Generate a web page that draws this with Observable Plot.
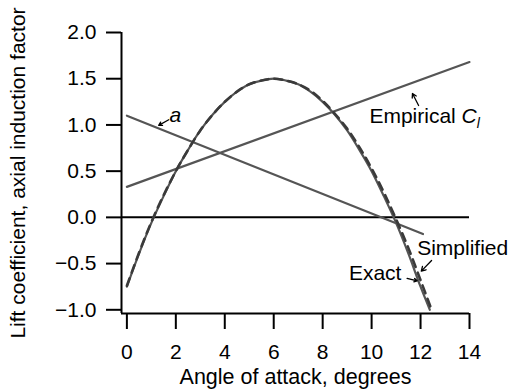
<!DOCTYPE html>
<html>
<head>
<meta charset="utf-8">
<script src="https://cdn.jsdelivr.net/npm/d3@7"></script>
<script src="https://cdn.jsdelivr.net/npm/@observablehq/plot@0.6"></script>
<style>
  html, body { margin: 0; padding: 0; background: #fff; }
</style>
</head>
<body>
<div id="chart"></div>
<script>
// Angle of attack (degrees) and lift coefficient
const alphaExact = [0, 0.5, 1, 1.5, 2, 2.5, 3, 3.5, 4, 4.5, 5, 5.5, 6, 6.5, 7, 7.5, 8, 8.5, 9, 9.5, 10, 10.5, 11, 11.5, 12, 12.38];
const clExact    = [-0.75, -0.39, -0.06, 0.23, 0.50, 0.73, 0.94, 1.11, 1.25, 1.36, 1.44, 1.48, 1.50, 1.48, 1.44, 1.36, 1.25, 1.11, 0.94, 0.73, 0.50, 0.23, -0.06, -0.39, -0.75, -1.00];
const alphaSimplified = [0, 0.5, 1, 1.5, 2, 2.5, 3, 3.5, 4, 4.5, 5, 5.5, 6, 6.5, 7, 7.5, 8, 8.5, 9, 9.5, 10, 10.5, 11, 11.5, 12, 12.45];
const clSimplified    = [-0.74, -0.38, -0.05, 0.24, 0.50, 0.73, 0.94, 1.11, 1.25, 1.36, 1.44, 1.48, 1.50, 1.48, 1.44, 1.37, 1.26, 1.12, 0.96, 0.76, 0.53, 0.27, -0.02, -0.33, -0.68, -1.00];
// Empirical lift coefficient line
const alphaEmpirical = [0, 14];
const clEmpirical    = [0.33, 1.68];
// Axial induction factor a
const alphaA = [0, 12.1];
const valueA = [1.10, -0.18];
// Tick labels
const xTicks = [0, 2, 4, 6, 8, 10, 12, 14];
const yTicks = [-1.0, -0.5, 0.0, 0.5, 1.0, 1.5, 2.0];

const exact = alphaExact.map((x, i) => ({x, y: clExact[i]}));
const simplified = alphaSimplified.map((x, i) => ({x, y: clSimplified[i]}));
const empirical = alphaEmpirical.map((x, i) => ({x, y: clEmpirical[i]}));
const induction = alphaA.map((x, i) => ({x, y: valueA[i]}));

const curveColor = "#555";
const fontFamily = "'Liberation Sans', Arial, Helvetica, sans-serif";

const arrows = [
  {x1: 1.71, y1: 1.056, x2: 1.30, y2: 0.995},
  {x1: 11.92, y1: 1.21, x2: 11.67, y2: 1.34},
  {x1: 12.45, y1: -0.466, x2: 12.03, y2: -0.582},
  {x1: 11.45, y1: -0.66, x2: 11.86, y2: -0.686}
];

const plot = Plot.plot({
  width: 508,
  height: 391,
  marginLeft: 121,
  marginRight: 39,
  marginTop: 32,
  marginBottom: 78,
  style: {fontSize: "21px", fontFamily, background: "#fff", color: "#000"},
  x: {domain: [-0.22, 14]},
  y: {domain: [-1.04, 2.0]},
  marks: [
    Plot.axisX({ticks: xTicks, tickSize: 16, tickPadding: 15, strokeWidth: 2, label: null, tickFormat: d3.format("d")}),
    Plot.axisY({ticks: yTicks, tickSize: 15, tickPadding: 10, strokeWidth: 2, label: null, tickFormat: d3.format(".1f")}),
    Plot.ruleX([-0.22], {y1: -1.04, y2: 2.0, stroke: "#000", strokeWidth: 2}),
    Plot.ruleY([-1.04], {x1: -0.22, x2: 14, stroke: "#000", strokeWidth: 2}),
    Plot.ruleY([0], {x1: -0.22, x2: 14, stroke: "#000", strokeWidth: 2}),
    Plot.line(empirical, {x: "x", y: "y", stroke: curveColor, strokeWidth: 2.2}),
    Plot.line(induction, {x: "x", y: "y", stroke: curveColor, strokeWidth: 2.2}),
    Plot.line(exact, {x: "x", y: "y", stroke: curveColor, strokeWidth: 2.2, curve: "catmull-rom"}),
    Plot.line(simplified, {x: "x", y: "y", stroke: "#3a3a3a", strokeWidth: 2.6, strokeDasharray: "8,6", curve: "catmull-rom"}),
    Plot.arrow(arrows, {x1: "x1", y1: "y1", x2: "x2", y2: "y2", stroke: "#000", strokeWidth: 1.3, headLength: 6}),
    Plot.text(["a"], {x: 1.98, y: 1.10, fontStyle: "italic", textAnchor: "middle"}),
    Plot.text(["Empirical Cl"], {x: 9.91, y: 1.09, textAnchor: "start"}),
    Plot.text(["Simplified"], {x: 11.86, y: -0.336, textAnchor: "start"}),
    Plot.text(["Exact"], {x: 11.22, y: -0.60, textAnchor: "end"}),
    Plot.text(["Angle of attack, degrees"], {frameAnchor: "bottom", lineAnchor: "middle", textAnchor: "middle", dy: 64, fontSize: "21.5px"}),
    Plot.text(["Lift coefficient, axial induction factor"], {frameAnchor: "left", lineAnchor: "middle", textAnchor: "middle", dx: -103, rotate: -90, fontSize: "21px"})
  ]
});

for (const t of plot.querySelectorAll("text")) {
  if (t.textContent === "Empirical Cl") {
    t.textContent = "";
    const ns = "http://www.w3.org/2000/svg";
    const a = document.createElementNS(ns, "tspan"); a.textContent = "Empirical ";
    const c = document.createElementNS(ns, "tspan"); c.textContent = "C"; c.setAttribute("font-style", "italic");
    const l = document.createElementNS(ns, "tspan"); l.textContent = "l"; l.setAttribute("font-style", "italic");
    l.setAttribute("font-size", "14px"); l.setAttribute("dy", "0.35em");
    t.append(a, c, l);
  }
}

document.getElementById("chart").append(plot);
</script>
</body>
</html>
